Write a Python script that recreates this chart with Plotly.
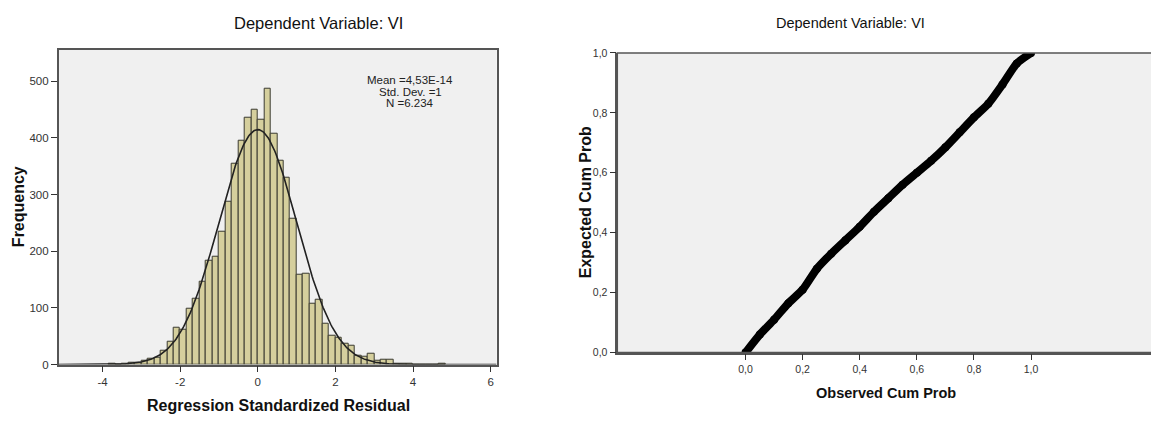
import numpy as np
import plotly.graph_objects as go

# ---- Histogram of regression standardized residuals ----
N_CASES = 6234
RES_MEAN = 4.53e-14
RES_SD = 1.0
BIN_WIDTH = 1 / 6
BIN_START = -23 / 6          # lower edge of the first bin
bin_counts = [
    1, 0, 1, 3, 4, 7, 11, 12, 24, 40, 65, 61, 98, 116, 146, 183, 191, 234, 287,
    354, 395, 435, 450, 432, 487, 408, 359, 330, 257, 159, 161, 107, 114, 72,
    51, 47, 37, 33, 15, 13, 19, 6, 8, 9, 1, 1, 2, 0, 0, 0, 0, 1,
]
hist_xticks = [-4, -2, 0, 2, 4, 6]
hist_yticks = [0, 100, 200, 300, 400, 500]
stats_lines = ["Mean =4,53E-14", "Std. Dev. =1", "N =6.234"]

# ---- Normal P-P plot ----
observed_cum = [0.0, 0.05, 0.10, 0.15, 0.20, 0.25, 0.30, 0.35, 0.40, 0.45, 0.50,
                0.55, 0.60, 0.65, 0.70, 0.75, 0.80, 0.85, 0.90, 0.95, 1.0]
expected_cum = [0.0, 0.06, 0.11, 0.165, 0.21, 0.28, 0.33, 0.375, 0.42, 0.47, 0.515,
                0.56, 0.60, 0.64, 0.685, 0.735, 0.785, 0.83, 0.895, 0.965, 1.0]
pp_ticks = [0.0, 0.2, 0.4, 0.6, 0.8, 1.0]
pp_ticktext = ["0,0", "0,2", "0,4", "0,6", "0,8", "1,0"]

W, H = 1151, 424
FONT = "Liberation Sans, Arial, sans-serif"
PLOT_BG = "#f0f0f0"
AXIS_COL = "#555555"
TICK_COL = "#333333"


def px(x):
    return x / W


def py(y):
    return 1 - y / H


bin_centers = [BIN_START + (i + 0.5) * BIN_WIDTH for i in range(len(bin_counts))]

fig = go.Figure()

fig.add_trace(go.Bar(
    x=bin_centers, y=bin_counts, width=BIN_WIDTH,
    marker=dict(color="#d5cf9d", line=dict(color="#3a3a30", width=1)),
    xaxis="x", yaxis="y", showlegend=False, hoverinfo="x+y",
))

# fitted normal curve from the stated mean, std. dev. and N
xs = np.linspace(-5.13, 6.15, 400)
ys = N_CASES * BIN_WIDTH * np.exp(-0.5 * ((xs - RES_MEAN) / RES_SD) ** 2) / (RES_SD * np.sqrt(2 * np.pi))
fig.add_trace(go.Scatter(
    x=xs, y=ys, mode="lines", line=dict(color="#222222", width=1.6),
    xaxis="x", yaxis="y", showlegend=False, hoverinfo="skip",
))

fig.add_trace(go.Scatter(
    x=observed_cum, y=expected_cum, mode="lines+markers",
    line=dict(color="black", width=8, shape="spline", smoothing=0.6),
    marker=dict(color="black", size=8),
    xaxis="x2", yaxis="y2", showlegend=False,
))

axis_common = dict(
    showgrid=False, zeroline=False, showline=True, linecolor=AXIS_COL, linewidth=1.5,
    ticks="outside", ticklen=6, tickwidth=1.2, tickcolor=TICK_COL,
)

fig.update_layout(
    width=W, height=H,
    margin=dict(l=0, r=0, t=0, b=0),
    paper_bgcolor="white",
    plot_bgcolor=PLOT_BG,
    bargap=0,
    xaxis=dict(
        domain=[px(58.7), px(496.7)], range=[-5.13, 6.155], anchor="y",
        tickvals=hist_xticks, ticktext=[str(v) for v in hist_xticks],
        mirror=True, tickfont=dict(family=FONT, size=11.5, color=TICK_COL),
        **axis_common,
    ),
    yaxis=dict(
        domain=[py(369), py(45)], range=[0, 555.5], anchor="x",
        tickvals=hist_yticks, ticktext=[str(v) for v in hist_yticks],
        mirror=True, tickfont=dict(family=FONT, size=11.5, color=TICK_COL),
        **axis_common,
    ),
    xaxis2=dict(
        domain=[px(617.3), 1.0], range=[-0.449, 1.42], anchor="y2",
        tickvals=pp_ticks, ticktext=pp_ticktext,
        tickfont=dict(family=FONT, size=10.5, color=TICK_COL),
        **axis_common,
    ),
    yaxis2=dict(
        domain=[py(356.7), py(48.3)], range=[0, 1], anchor="x2",
        tickvals=pp_ticks, ticktext=pp_ticktext,
        tickfont=dict(family=FONT, size=10.5, color=TICK_COL),
        **axis_common,
    ),
    shapes=[
        dict(type="rect", xref="paper", yref="paper",
             x0=px(617.3), x1=1.02, y0=py(356.7), y1=py(48.3),
             line=dict(color=AXIS_COL, width=1.5), fillcolor="rgba(0,0,0,0)", layer="above"),
    ],
)

annotations = [
    dict(text="Dependent Variable: VI", x=px(318), y=py(18), font=dict(family=FONT, size=16.5, color="#111")),
    dict(text="<b>Regression Standardized Residual</b>", x=px(278), y=py(411), font=dict(family=FONT, size=16, color="#111")),
    dict(text="<b>Frequency</b>", x=px(18), y=py(207), textangle=-90, font=dict(family=FONT, size=16, color="#111")),
    dict(text="Dependent Variable: VI", x=px(850), y=py(18), font=dict(family=FONT, size=14.5, color="#111")),
    dict(text="<b>Observed Cum Prob</b>", x=px(886), y=py(398), font=dict(family=FONT, size=14.5, color="#111")),
    dict(text="<b>Expected Cum Prob</b>", x=px(585), y=py(202), textangle=-90, font=dict(family=FONT, size=16, color="#111")),
]
for i, line in enumerate(stats_lines):
    annotations.append(dict(text=line, x=px(410), y=py(76 + 12 * i),
                            font=dict(family=FONT, size=11.5, color="#222")))

for a in annotations:
    a.update(xref="paper", yref="paper", showarrow=False, xanchor="center", yanchor="middle")

fig.update_layout(annotations=annotations)

fig.write_html("out.html")
